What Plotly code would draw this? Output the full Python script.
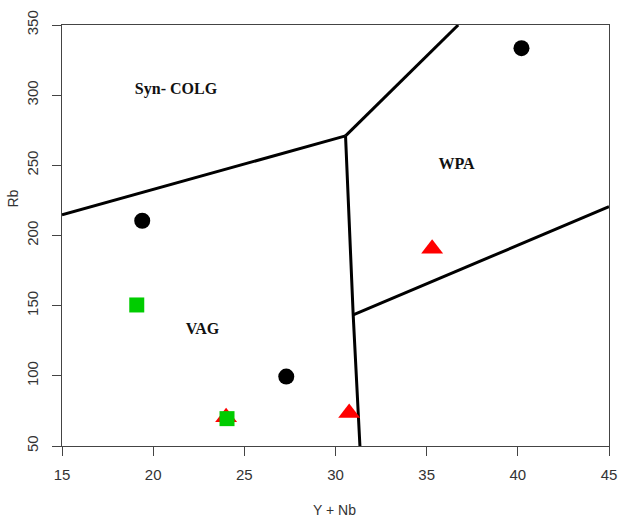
import plotly.graph_objects as go

# Boundary lines (Y+Nb, Rb)
line1_x = [15, 30.55]; line1_y = [214.7, 271]
line2_x = [30.55, 36.73]; line2_y = [271, 350]
line3_x = [30.55, 30.97, 31.34]; line3_y = [271, 143.4, 50]
line4_x = [30.97, 45]; line4_y = [143.4, 220.6]

# Samples
circle_x = [19.4, 40.2, 27.3]; circle_y = [210.5, 333.5, 99.5]
tri_x = [35.3, 30.75, 24.0]; tri_y = [190.5, 73.5, 70.5]
sq_x = [19.1, 24.05]; sq_y = [150.5, 69.5]

labels = ["Syn- COLG", "WPA", "VAG"]
label_x = [21.25, 36.64, 22.7]; label_y = [303.5, 250, 132.5]

x_ticks = [15, 20, 25, 30, 35, 40, 45]
y_ticks = [50, 100, 150, 200, 250, 300, 350]

fig = go.Figure()
for lx, ly in [(line1_x, line1_y), (line2_x, line2_y), (line3_x, line3_y), (line4_x, line4_y)]:
    fig.add_trace(go.Scatter(x=lx, y=ly, mode="lines", line=dict(color="black", width=3),
                             hoverinfo="skip", showlegend=False))

fig.add_trace(go.Scatter(x=tri_x, y=tri_y, mode="markers",
                         marker=dict(symbol="triangle-up", size=19, color="#ff0000"), showlegend=False))
fig.add_trace(go.Scatter(x=circle_x, y=circle_y, mode="markers",
                         marker=dict(symbol="circle", size=16, color="black"), showlegend=False))
fig.add_trace(go.Scatter(x=sq_x, y=sq_y, mode="markers",
                         marker=dict(symbol="square", size=15, color="#00cc00"), showlegend=False))

fig.add_trace(go.Scatter(x=label_x, y=label_y, mode="text", text=["<b>%s</b>" % t for t in labels],
                         textfont=dict(family="Liberation Serif", size=16, color="#111111"),
                         hoverinfo="skip", showlegend=False))

axis_common = dict(showline=True, linecolor="#444444", linewidth=1, mirror=True, automargin=False,
                   ticks="outside", ticklen=9, tickcolor="#444444", showgrid=False, zeroline=False,
                   tickfont=dict(family="Liberation Sans", size=15, color="#333333"))
fig.update_xaxes(range=[15, 45], tickvals=x_ticks, ticklabelstandoff=6, **axis_common)
fig.update_yaxes(range=[50, 350], tickvals=y_ticks, tickangle=-90, ticklabelstandoff=8, **axis_common)

title_font = dict(family="Liberation Sans", size=14, color="#333333")
fig.add_annotation(text="Y + Nb", xref="paper", yref="paper", x=0.499, y=-0.152,
                   xanchor="center", yanchor="middle", showarrow=False, font=title_font)
fig.add_annotation(text="Rb", xref="paper", yref="paper", x=-0.0887, y=0.589, textangle=-90,
                   xanchor="center", yanchor="middle", showarrow=False, font=title_font)

fig.update_layout(width=619, height=519, margin=dict(l=62, r=10, t=25, b=73),
                  plot_bgcolor="white", paper_bgcolor="white")
fig.write_html("out.html")
